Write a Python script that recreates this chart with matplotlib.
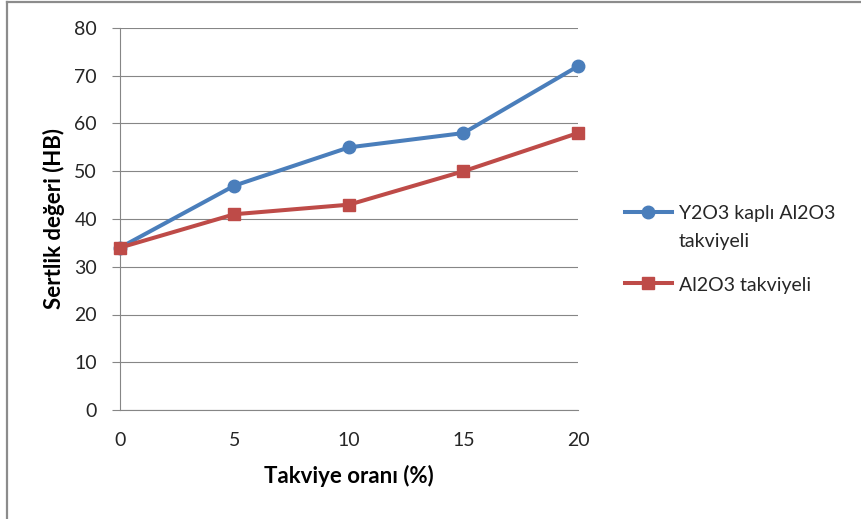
import matplotlib
matplotlib.use("Agg")
import matplotlib.pyplot as plt
from matplotlib.lines import Line2D

plt.rcParams['font.family'] = ['Lato', 'DejaVu Sans']

# Data
takviye = [0, 5, 10, 15, 20]
y2o3_kapli = [34, 47, 55, 58, 72]
al2o3 = [34, 41, 43, 50, 58]
series_labels = ["Y2O3 kaplı Al2O3\ntakviyeli", "Al2O3 takviyeli"]
x_ticks = [0, 5, 10, 15, 20]
y_ticks = [0, 10, 20, 30, 40, 50, 60, 70, 80]

BLUE = "#4A7EBB"
RED = "#BE4B48"
GRID = "#868686"
TEXT = "#262626"

W, H = 862, 519
fig = plt.figure(figsize=(W / 100, H / 100), dpi=100)
ax = fig.add_axes([120 / W, 1 - 410 / H, (578 - 120) / W, (410 - 28) / H])

ax.plot(takviye, y2o3_kapli, color=BLUE, lw=2.9, marker="o", ms=9,
        zorder=3, clip_on=False)
ax.plot(takviye, al2o3, color=RED, lw=2.9, marker="s", ms=8.8,
        zorder=3, clip_on=False)

ax.set_xlim(0, 20)
ax.set_ylim(0, 80)
ax.set_xticks(x_ticks)
ax.set_yticks(y_ticks)
ax.yaxis.grid(True, color=GRID, lw=0.8)
ax.set_axisbelow(True)
for s in ["top", "right"]:
    ax.spines[s].set_visible(False)
for s in ["left", "bottom"]:
    ax.spines[s].set_color(GRID)
    ax.spines[s].set_linewidth(0.8)

ax.tick_params(axis="y", length=6, width=0.8, color=GRID, pad=10.5,
               labelsize=14, labelcolor=TEXT)
ax.tick_params(axis="x", length=0, pad=16, labelsize=14, labelcolor=TEXT)

ax.set_xlabel("Takviye oranı (%)", fontsize=16, fontweight="bold",
              color="black", labelpad=11)
ax.set_ylabel("Sertlik değeri (HB)", fontsize=16, fontweight="bold",
              color="black", labelpad=7)

# Legend drawn beside the plot area
LINE_STEP = 28  # px between wrapped label lines


def legend_entry(y_px, color, marker, ms, label):
    yf = 1 - y_px / H
    fig.add_artist(Line2D([625 / W, 672 / W], [yf, yf], color=color, lw=2.9,
                          transform=fig.transFigure))
    fig.add_artist(Line2D([648.5 / W], [yf], color=color, marker=marker,
                          ms=ms, transform=fig.transFigure))
    for i, line in enumerate(label.split("\n")):
        base = y_px + 7.5 + i * LINE_STEP
        fig.text(679 / W, 1 - base / H, line, fontsize=14, color=TEXT,
                 va="baseline", ha="left")


legend_entry(212, BLUE, "o", 9, series_labels[0])
legend_entry(283, RED, "s", 8.8, series_labels[1])

# Figure frame (top and left edges)
fig.add_artist(Line2D([7 / W, 7 / W], [0, 1 - 1.5 / H], color="#8C8C8C",
                      lw=1.6, transform=fig.transFigure))
fig.add_artist(Line2D([7 / W, 1], [1 - 1.5 / H, 1 - 1.5 / H], color="#8C8C8C",
                      lw=1.6, transform=fig.transFigure))

fig.savefig("out.png", dpi=100, facecolor="white")
